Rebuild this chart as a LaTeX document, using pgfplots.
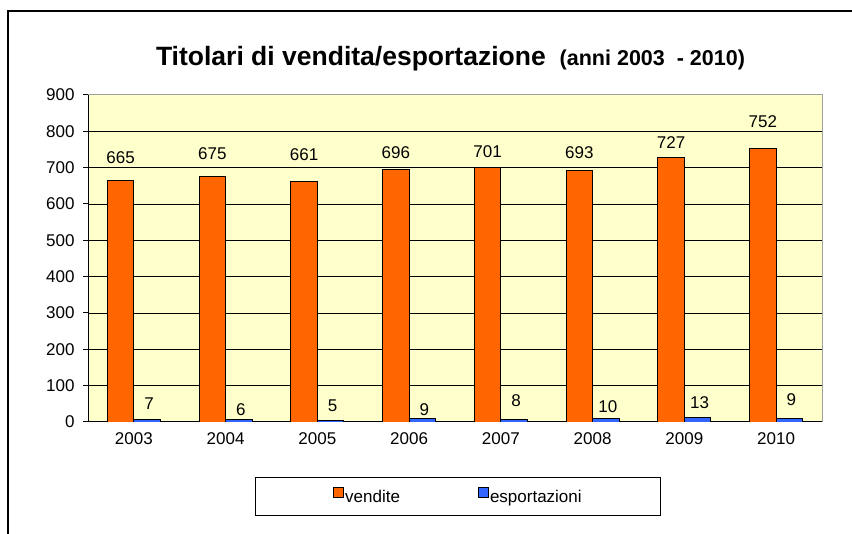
\documentclass[border=0pt]{standalone}
\usepackage{fontspec}
\setmainfont{Liberation Sans}
\usepackage{pgfplots}
\pgfplotsset{compat=1.18}
\usepackage{pgfplotstable}
\definecolor{vend}{HTML}{FF6600}
\definecolor{expo}{HTML}{3366FF}
\definecolor{plotbg}{HTML}{FFFFCC}
\definecolor{bordergray}{HTML}{A0A0A0}

\pgfplotstableread{
x v off
0 665 23
1 675 23.3
2 661 27
3 696 16
4 701 15.3
5 693 17.3
6 727 15.3
7 752 27
}\vendite

\pgfplotstableread{
x v off
0 7 16.2
1 6 9.8
2 5 14.2
3 9 8.7
4 8 18
5 10 11.7
6 13 14.6
7 9 18.7
}\esport

\pgfplotsset{
  /pgf/number format/assume math mode=true,
  sqlegend/.style={legend image code/.code={\draw[##1, draw=black, line width=1pt] (0pt,-1pt) rectangle (10pt,9pt);}},
}

\begin{document}
\begin{tikzpicture}
\path[use as bounding box] (0pt,0pt) rectangle (852pt,534pt);
\draw[line width=1.5pt] (8pt,0pt) -- (8pt,523pt) -- (852pt,523pt);
\node[anchor=base, inner sep=0pt] at (450.5pt,468.5pt)
  {{\fontsize{26.5}{30}\selectfont\bfseries Titolari di vendita/esportazione}\hspace{14pt}{\fontsize{21.5}{26}\selectfont\bfseries (anni 2003\ \ - 2010)}};
\begin{axis}[
  at={(88pt,112pt)}, anchor=south west,
  scale only axis, width=734pt, height=327pt,
  xmin=-0.5, xmax=7.5, ymin=0, ymax=900,
  axis background/.style={fill=plotbg, draw=bordergray, line width=1pt},
  axis x line=bottom, axis y line=left,
  axis line style={-, black, line width=1pt},
  ytick={0,100,...,900},
  extra y ticks={100,200,...,800},
  extra y tick labels={},
  extra y tick style={grid=major, major tick length=0pt},
  grid style={black, line width=0.9pt},
  xtick={0,...,7},
  xticklabels={2003,2004,2005,2006,2007,2008,2009,2010},
  xtick style={draw=none},
  extra x ticks={-0.5,0.5,...,7.5},
  extra x tick labels={},
  extra x tick style={major tick length=6pt, tick style={draw=black, line width=1pt}},
  ytick style={black, line width=1pt},
  major tick length=5pt,
  tick align=outside,
  ybar=0pt, bar width=26.5pt,
  tick label style={font=\fontsize{17}{20}\selectfont},
  yticklabel style={xshift=-5pt},
  xticklabel style={yshift=-2pt},
  legend columns=2,
  legend style={at={(0.504,-0.2278)}, anchor=center, draw=black, line width=1pt,
    inner xsep=78pt, inner ysep=10pt,
    font=\fontsize{17}{20}\selectfont,
    nodes={inner xsep=1pt},
    /tikz/every even column/.append style={column sep=77pt}},
]
\addplot[fill=vend, draw=black, line width=0.9pt, sqlegend,
  nodes near coords, point meta=y,
  visualization depends on={\thisrow{off} \as \off},
  every node near coord/.append style={anchor=center, yshift=\off pt, text=black, font=\fontsize{17}{20}\selectfont}]
  table[x=x, y=v] {\vendite};
\addplot[fill=expo, draw=black, line width=0.9pt, sqlegend,
  nodes near coords, point meta=y,
  visualization depends on={\thisrow{off} \as \off},
  every node near coord/.append style={anchor=center, xshift=2pt, yshift=\off pt, text=black, font=\fontsize{17}{20}\selectfont}]
  table[x=x, y=v] {\esport};
\legend{vendite, esportazioni}
\end{axis}
\end{tikzpicture}
\end{document}
